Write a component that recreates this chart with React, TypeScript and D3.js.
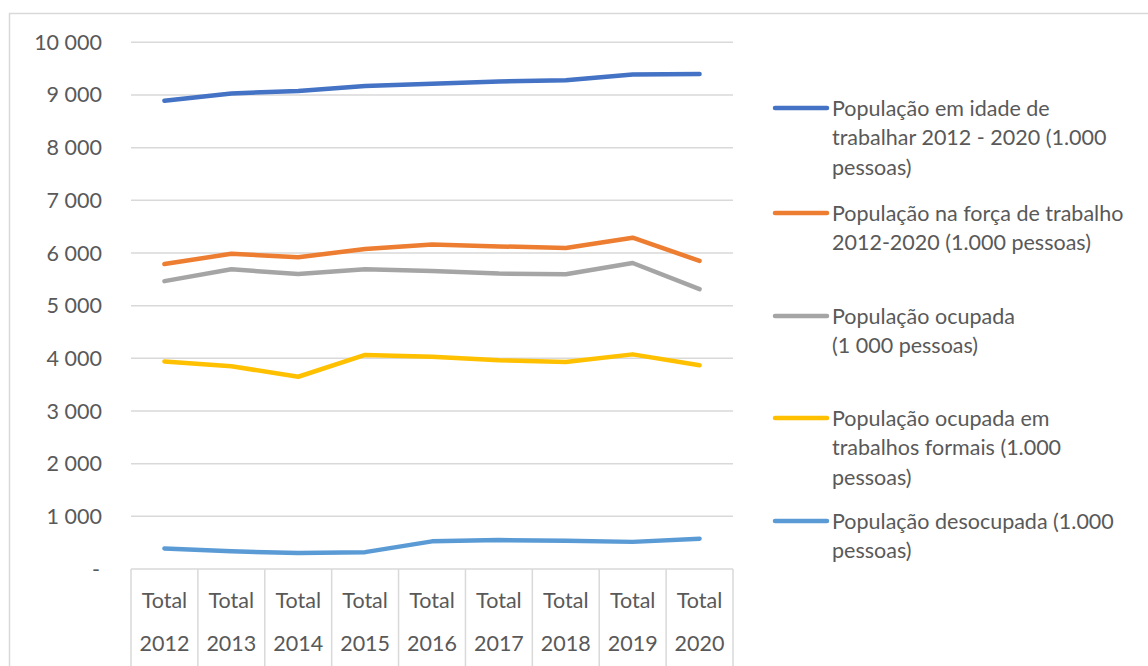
import React from "react";
import * as d3 from "d3";

const years = ["2012", "2013", "2014", "2015", "2016", "2017", "2018", "2019", "2020"];
const yTicks = [0, 1000, 2000, 3000, 4000, 5000, 6000, 7000, 8000, 9000, 10000];

const idadeTrabalhar = [8890, 9030, 9075, 9170, 9215, 9255, 9280, 9390, 9400];
const forcaTrabalho = [5790, 5985, 5920, 6075, 6160, 6125, 6095, 6290, 5850];
const ocupada = [5465, 5690, 5600, 5690, 5660, 5610, 5595, 5810, 5315];
const ocupadaFormais = [3940, 3850, 3650, 4065, 4030, 3965, 3930, 4075, 3870];
const desocupada = [390, 335, 305, 320, 525, 550, 535, 515, 575];

const seriesNames = [
  ["População em idade de", "trabalhar 2012 - 2020 (1.000", "pessoas)"],
  ["População na força de trabalho", "2012-2020 (1.000 pessoas)"],
  ["População ocupada", "(1 000 pessoas)"],
  ["População ocupada em", "trabalhos formais (1.000", "pessoas)"],
  ["População desocupada (1.000", "pessoas)"],
];
const seriesValues = [idadeTrabalhar, forcaTrabalho, ocupada, ocupadaFormais, desocupada];
const colors = ["#4472C4", "#ED7D31", "#A5A5A5", "#FFC000", "#5B9BD5"];
const legendY = [108, 213, 316, 418, 521];

const fmt = (v: number) => (v === 0 ? "-" : d3.format(",")(v).replace(/,/g, " "));

export default function App() {
  const width = 1148;
  const height = 666;
  const left = 131;
  const right = 733;
  const top = 42.3;
  const bottom = 569;

  const x = d3.scaleBand<string>().domain(years).range([left, right]).padding(0);
  const y = d3.scaleLinear().domain([0, 10000]).range([bottom, top]);
  const cx = (c: string) => (x(c) as number) + x.bandwidth() / 2;

  const line = d3
    .line<number>()
    .x((_, i) => cx(years[i]))
    .y((d) => y(d));

  const font = "Lato, 'Open Sans', sans-serif";
  const textColor = "#595959";
  const fs = 21.5;

  return (
    <svg
      width={width}
      height={height}
      style={{ position: "absolute", left: 0, top: 0, fontFamily: font }}
    >
      <rect x={0} y={0} width={width} height={height} fill="#fff" />
      <rect x={9.5} y={13.5} width={width} height={height} fill="none" stroke="#d9d9d9" strokeWidth={1.5} />

      {/* gridlines */}
      {yTicks.map((t) => (
        <line key={t} x1={left} x2={right} y1={y(t)} y2={y(t)} stroke="#d9d9d9" strokeWidth={1.5} />
      ))}

      {/* y labels */}
      {yTicks.map((t) => (
        <text
          key={"l" + t}
          x={t === 0 ? 100 : 102}
          y={y(t)}
          dy="0.35em"
          textAnchor="end"
          fontSize={fs}
          fill={textColor}
        >
          {fmt(t)}
        </text>
      ))}

      {/* category boxes */}
      {[...years.map((c) => x(c) as number), right].map((px, i) => (
        <line key={"v" + i} x1={px} x2={px} y1={bottom} y2={height} stroke="#d9d9d9" strokeWidth={1.5} />
      ))}
      {years.map((c) => (
        <g key={"c" + c} fill={textColor} fontSize={fs} textAnchor="middle">
          <text x={cx(c)} y={600} dy="0.35em">Total</text>
          <text x={cx(c)} y={643} dy="0.35em">{c}</text>
        </g>
      ))}

      {/* series lines */}
      {seriesValues.map((vals, i) => (
        <path
          key={"s" + i}
          d={line(vals) as string}
          fill="none"
          stroke={colors[i]}
          strokeWidth={4.5}
          strokeLinecap="round"
          strokeLinejoin="round"
        />
      ))}

      {/* legend */}
      {seriesNames.map((lines, i) => (
        <g key={"lg" + i}>
          <line
            x1={775}
            x2={827}
            y1={legendY[i]}
            y2={legendY[i]}
            stroke={colors[i]}
            strokeWidth={4.5}
            strokeLinecap="round"
          />
          {lines.map((t, j) => (
            <text key={j} x={832} y={legendY[i] + j * 29.5} dy="0.35em" fontSize={fs} fill={textColor}>
              {t}
            </text>
          ))}
        </g>
      ))}
    </svg>
  );
}
